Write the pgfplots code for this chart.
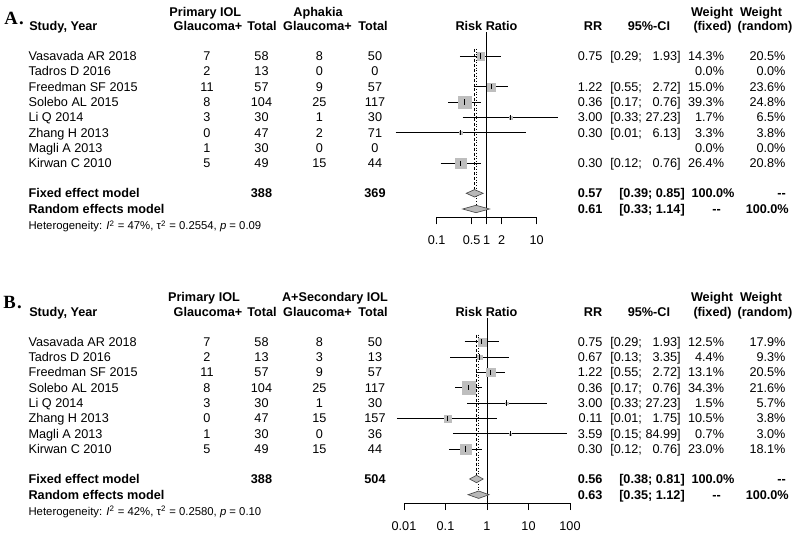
\documentclass[border=0pt]{standalone}
\usepackage{pgfplots}
\pgfplotsset{compat=1.18}
\usepackage{fontspec}
\setmainfont{Liberation Sans}
\newfontfamily\serifbf{Liberation Serif}
\definecolor{sqgray}{RGB}{190,190,190}
\definecolor{dmgray}{RGB}{185,185,185}
\newcommand\fs{\fontsize{9.5}{11}\selectfont}
\tikzset{
 L/.style={anchor=base west, inner sep=0pt, font=\fs},
 C/.style={anchor=base, inner sep=0pt, font=\fs},
 R/.style={anchor=base east, inner sep=0pt, font=\fs}}
\pgfplotsset{every axis/.append style={scale only axis, anchor=south west, xmode=log,
  axis x line=bottom, axis y line=none, axis line style={-, line width=0.6pt},
  xminorticks=false, major tick length=5.25pt,
  xtick style={line width=0.6pt, black}, clip=false,
  xticklabel style={font=\fs, anchor=north, inner sep=0pt, yshift=-8.5pt}}}
% y (negative px), est, lo, hi, half size
\newcommand\study[5]{%
  \addplot[only marks, mark=square*, mark size=#5, mark options={fill=sqgray, draw=sqgray, line width=0.1pt}] coordinates {(#2,#1)};
  \addplot[black, line width=0.65pt] coordinates {(#3,#1) (#4,#1)};
  \addplot[only marks, mark=|, mark size=1.9pt, mark options={black, line width=0.6pt}] coordinates {(#2,#1)};}
\newcommand\lrow[6]{\node[L] at (28.3,#1) {#2}; \node[C] at (207,#1) {#3}; \node[C] at (261.5,#1) {#4}; \node[C] at (319.3,#1) {#5}; \node[C] at (375,#1) {#6};}
\newcommand\rrow[5]{\node[R] at (602.7,#1) {#2}; \node[R] at (681,#1) {#3}; \node[R] at (724.3,#1) {#4}; \node[R] at (785.7,#1) {#5};}
\newcommand\ph{\phantom{0}}
\newcommand\dd{{-}{-}}
\begin{document}
\begin{tikzpicture}
\begin{scope}[x=0.75pt,y=-0.75pt]
\path (0,0) rectangle (796,534);
\node[anchor=base west, inner sep=0pt, font=\fontsize{14}{16}\selectfont\serifbf\bfseries] at (4,25) {A\kern1pt.};
\node[anchor=base west, inner sep=0pt, font=\fontsize{14}{16}\selectfont\serifbf\bfseries] at (3,308.5) {B\kern1pt.};
\end{scope}
% ---------------- Panel A text
\begin{scope}[x=0.75pt,y=-0.75pt]
\node[C,font=\fs\bfseries] at (205.3,16.2) {Primary IOL};
\node[C,font=\fs\bfseries] at (318,16.2) {Aphakia};
\node[C,font=\fs\bfseries] at (712,16.2) {Weight};
\node[C,font=\fs\bfseries] at (761,16.2) {Weight};
\node[L,font=\fs\bfseries] at (29,30.5) {Study, Year};
\node[C,font=\fs\bfseries] at (208,30.5) {Glaucoma+};
\node[C,font=\fs\bfseries] at (262,30.5) {Total};
\node[C,font=\fs\bfseries] at (317.5,30.5) {Glaucoma+};
\node[C,font=\fs\bfseries] at (373,30.5) {Total};
\node[C,font=\fs\bfseries] at (486.5,30.5) {Risk Ratio};
\node[C,font=\fs\bfseries] at (593,30.5) {RR};
\node[C,font=\fs\bfseries] at (649,30.5) {95\%-CI};
\node[C,font=\fs\bfseries] at (712.5,30.5) {(fixed)};
\node[C,font=\fs\bfseries] at (765,30.5) {(random)};
\lrow{60.5}{Vasavada AR 2018}{7}{58}{8}{50}
\lrow{75.8}{Tadros D 2016}{2}{13}{0}{0}
\lrow{91.2}{Freedman SF 2015}{11}{57}{9}{57}
\lrow{106.5}{Solebo AL 2015}{8}{104}{25}{117}
\lrow{121.8}{Li Q 2014}{3}{30}{1}{30}
\lrow{137.2}{Zhang H 2013}{0}{47}{2}{71}
\lrow{152.5}{Magli A 2013}{1}{30}{0}{0}
\lrow{167.8}{Kirwan C 2010}{5}{49}{15}{44}
\rrow{60.5}{0.75}{[0.29; \ph1.93]}{14.3\%}{20.5\%}
\rrow{75.8}{}{}{0.0\%}{0.0\%}
\rrow{91.2}{1.22}{[0.55; \ph2.72]}{15.0\%}{23.6\%}
\rrow{106.5}{0.36}{[0.17; \ph0.76]}{39.3\%}{24.8\%}
\rrow{121.8}{3.00}{[0.33; 27.23]}{1.7\%}{6.5\%}
\rrow{137.2}{0.30}{[0.01; \ph6.13]}{3.3\%}{3.8\%}
\rrow{152.5}{}{}{0.0\%}{0.0\%}
\rrow{167.8}{0.30}{[0.12; \ph0.76]}{26.4\%}{20.8\%}
\node[L,font=\fs\bfseries] at (28.3,197.8) {Fixed effect model};
\node[C,font=\fs\bfseries] at (261.5,197.8) {388};
\node[C,font=\fs\bfseries] at (375,197.8) {369};
\node[R,font=\fs\bfseries] at (602.7,197.8) {0.57};
\node[R,font=\fs\bfseries] at (685,197.8) {[0.39; 0.85]};
\node[C,font=\fs\bfseries] at (713,197.8) {100.0\%};
\node[C,font=\fs\bfseries] at (781.5,197.8) {\dd};
\node[L,font=\fs\bfseries] at (28.3,213.5) {Random effects model};
\node[R,font=\fs\bfseries] at (602.7,213.5) {0.61};
\node[R,font=\fs\bfseries] at (685,213.5) {[0.33; 1.14]};
\node[C,font=\fs\bfseries] at (716.7,213.5) {\dd};
\node[R,font=\fs\bfseries] at (789,213.5) {100.0\%};
\node[L,font=\fontsize{8.5}{10}\selectfont] at (28.3,230) {Heterogeneity: \textit{I}\textsuperscript{2} = 47\%, τ\textsuperscript{2} = 0.2554, \textit{p} = 0.09};
\end{scope}
% ---------------- Panel B text
\begin{scope}[x=0.75pt,y=-0.75pt,yshift=-214.275pt]
\node[C,font=\fs\bfseries] at (204,16.2) {Primary IOL};
\node[C,font=\fs\bfseries] at (335,16.2) {A+Secondary IOL};
\node[C,font=\fs\bfseries] at (712,16.2) {Weight};
\node[C,font=\fs\bfseries] at (761,16.2) {Weight};
\node[L,font=\fs\bfseries] at (29,30.5) {Study, Year};
\node[C,font=\fs\bfseries] at (208,30.5) {Glaucoma+};
\node[C,font=\fs\bfseries] at (262,30.5) {Total};
\node[C,font=\fs\bfseries] at (317.5,30.5) {Glaucoma+};
\node[C,font=\fs\bfseries] at (373,30.5) {Total};
\node[C,font=\fs\bfseries] at (486.5,30.5) {Risk Ratio};
\node[C,font=\fs\bfseries] at (593,30.5) {RR};
\node[C,font=\fs\bfseries] at (649,30.5) {95\%-CI};
\node[C,font=\fs\bfseries] at (712.5,30.5) {(fixed)};
\node[C,font=\fs\bfseries] at (765,30.5) {(random)};
\lrow{60.5}{Vasavada AR 2018}{7}{58}{8}{50}
\lrow{75.8}{Tadros D 2016}{2}{13}{3}{13}
\lrow{91.2}{Freedman SF 2015}{11}{57}{9}{57}
\lrow{106.5}{Solebo AL 2015}{8}{104}{25}{117}
\lrow{121.8}{Li Q 2014}{3}{30}{1}{30}
\lrow{137.2}{Zhang H 2013}{0}{47}{15}{157}
\lrow{152.5}{Magli A 2013}{1}{30}{0}{36}
\lrow{167.8}{Kirwan C 2010}{5}{49}{15}{44}
\rrow{60.5}{0.75}{[0.29; \ph1.93]}{12.5\%}{17.9\%}
\rrow{75.8}{0.67}{[0.13; \ph3.35]}{4.4\%}{9.3\%}
\rrow{91.2}{1.22}{[0.55; \ph2.72]}{13.1\%}{20.5\%}
\rrow{106.5}{0.36}{[0.17; \ph0.76]}{34.3\%}{21.6\%}
\rrow{121.8}{3.00}{[0.33; 27.23]}{1.5\%}{5.7\%}
\rrow{137.2}{0.11}{[0.01; \ph1.75]}{10.5\%}{3.8\%}
\rrow{152.5}{3.59}{[0.15; 84.99]}{0.7\%}{3.0\%}
\rrow{167.8}{0.30}{[0.12; \ph0.76]}{23.0\%}{18.1\%}
\node[L,font=\fs\bfseries] at (28.3,197.8) {Fixed effect model};
\node[C,font=\fs\bfseries] at (261.5,197.8) {388};
\node[C,font=\fs\bfseries] at (375,197.8) {504};
\node[R,font=\fs\bfseries] at (602.7,197.8) {0.56};
\node[R,font=\fs\bfseries] at (685,197.8) {[0.38; 0.81]};
\node[C,font=\fs\bfseries] at (713,197.8) {100.0\%};
\node[C,font=\fs\bfseries] at (781.5,197.8) {\dd};
\node[L,font=\fs\bfseries] at (28.3,213.5) {Random effects model};
\node[R,font=\fs\bfseries] at (602.7,213.5) {0.63};
\node[R,font=\fs\bfseries] at (685,213.5) {[0.35; 1.12]};
\node[C,font=\fs\bfseries] at (716.7,213.5) {\dd};
\node[R,font=\fs\bfseries] at (789,213.5) {100.0\%};
\node[L,font=\fontsize{8.5}{10}\selectfont] at (28.3,230) {Heterogeneity: \textit{I}\textsuperscript{2} = 42\%, τ\textsuperscript{2} = 0.2580, \textit{p} = 0.10};
\end{scope}
% ---------------- Panel A forest
\begin{axis}[at={(327.525pt,-162.975pt)}, width=75pt, height=138.975pt,
  xmin=0.1, xmax=10, ymin=-217.3, ymax=-32, xtick align=outside,
  xtick={0.1,0.5,1,2,10}, xticklabels={0.1,0.5,1,2,10}]
\addplot[black, line width=0.6pt] coordinates {(1,-32) (1,-217.3)};
\addplot[black, line width=0.6pt, dash pattern=on 2.2pt off 1.5pt] coordinates {(0.57,-49) (0.57,-189.6)};
\addplot[black, line width=0.6pt, dash pattern=on 0.8pt off 1.2pt] coordinates {(0.61,-49) (0.61,-205.3)};
\study{-56}{0.75}{0.29}{1.93}{2.87pt}
\study{-86.7}{1.22}{0.55}{2.72}{2.94pt}
\study{-102}{0.36}{0.17}{0.76}{4.76pt}
\study{-117.3}{3.00}{0.33}{27.23}{0.99pt}
\study{-132.7}{0.30}{0.015}{6.13}{1.38pt}
\study{-163.3}{0.30}{0.12}{0.76}{3.9pt}
\addplot[fill=dmgray, draw=black!70, line width=0.5pt] coordinates {(0.39,-193.3) (0.57,-189.6) (0.85,-193.3) (0.57,-197)} -- cycle;
\addplot[fill=dmgray, draw=black!70, line width=0.5pt] coordinates {(0.33,-209) (0.61,-205.3) (1.14,-209) (0.61,-212.7)} -- cycle;
\end{axis}
% ---------------- Panel B forest
\begin{axis}[at={(303pt,-377.25pt)}, width=124.5pt, height=138.975pt,
  xmin=0.01, xmax=100, ymin=-503, ymax=-317.7, xtick align=outside,
  xtick={0.01,0.1,1,10,100}, xticklabels={0.01,0.1,1,10,100}]
\addplot[black, line width=0.6pt] coordinates {(1,-317.7) (1,-503)};
\addplot[black, line width=0.6pt, dash pattern=on 2.2pt off 1.5pt] coordinates {(0.56,-334.7) (0.56,-475.3)};
\addplot[black, line width=0.6pt, dash pattern=on 0.8pt off 1.2pt] coordinates {(0.63,-334.7) (0.63,-491)};
\study{-341.7}{0.75}{0.29}{1.93}{2.99pt}
\study{-357}{0.67}{0.13}{3.35}{1.77pt}
\study{-372.4}{1.22}{0.55}{2.72}{3.06pt}
\study{-387.7}{0.36}{0.17}{0.76}{4.95pt}
\study{-403}{3.00}{0.33}{27.23}{1.03pt}
\study{-418.4}{0.11}{0.0067}{1.75}{2.74pt}
\study{-433.7}{3.59}{0.15}{84.99}{0.71pt}
\study{-449}{0.30}{0.12}{0.76}{4.05pt}
\addplot[fill=dmgray, draw=black!70, line width=0.5pt] coordinates {(0.38,-479) (0.56,-475.3) (0.81,-479) (0.56,-482.7)} -- cycle;
\addplot[fill=dmgray, draw=black!70, line width=0.5pt] coordinates {(0.35,-494.7) (0.63,-491) (1.12,-494.7) (0.63,-498.4)} -- cycle;
\end{axis}
\end{tikzpicture}
\end{document}
